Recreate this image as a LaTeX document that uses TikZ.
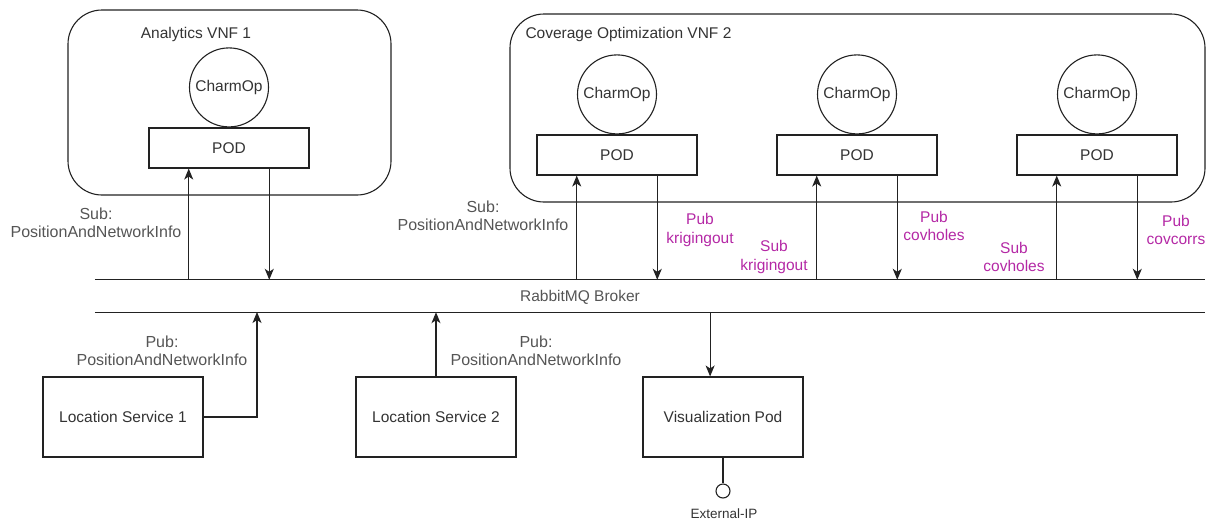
\documentclass[tikz,border=0pt]{standalone}
\usepackage{fontspec}
\setmainfont{Liberation Sans}
\usetikzlibrary{arrows.meta,calc}
\definecolor{ink}{HTML}{222222}
\definecolor{txt}{HTML}{333333}
\definecolor{lbl}{HTML}{555555}
\definecolor{topic}{RGB}{180,40,165}
\tikzset{
  base/.style={font=\fontsize{15.5}{18.5}\selectfont, text=txt},
  vnf/.style={draw=ink, line width=1.1pt, rounded corners=34pt, inner sep=0},
  podbox/.style={base, draw=ink, line width=1.1pt, minimum width=160pt, minimum height=40pt, inner sep=0},
  charm/.style={base, circle, draw=ink, line width=1.1pt, minimum size=79pt, inner sep=0},
  svc/.style={base, draw=ink, line width=1.1pt, minimum width=160pt, minimum height=80pt, inner sep=0},
  topiclbl/.style={font=\fontsize{16}{18.5}\selectfont, align=center, text=lbl},
  msglbl/.style={base, align=center, text=topic},
  wire/.style={draw=ink, line width=1.1pt},
  arr/.style={wire, -{Stealth[length=11pt,width=9pt,inset=3pt]}},
}
\begin{document}
\begin{tikzpicture}[x=1pt,y=-1pt]
\useasboundingbox (0,0) rectangle (1207,523);

% ---- Analytics VNF 1 ----
\node[vnf, minimum width=323pt, minimum height=185pt] (vnf1) at (229.5,102.5) {};
\node[base] (vnf1t) at (196,34) {Analytics VNF 1};
\node[podbox] (pod1) at (229,148) {POD};
\node[charm, anchor=south] (op1) at (pod1.north) {CharmOp};

% ---- Coverage Optimization VNF 2 ----
\node[vnf, minimum width=695pt, minimum height=188pt] (vnf2) at (857.5,108) {};
\node[base, anchor=west] (vnf2t) at (522,34) {Coverage Optimization VNF 2};
\node[podbox] (pod2) at (617,155) {POD};
\node[podbox] (pod3) at (857,155) {POD};
\node[podbox] (pod4) at (1097,155) {POD};
\node[charm, anchor=south] (op2) at (pod2.north) {CharmOp};
\node[charm, anchor=south] (op3) at (pod3.north) {CharmOp};
\node[charm, anchor=south] (op4) at (pod4.north) {CharmOp};

% ---- message bus ----
\node[minimum width=1110pt, minimum height=32pt, inner sep=0] (bus) at (650,296) {};
\draw[wire] (bus.north west) -- (bus.north east);
\draw[wire] (bus.south west) -- (bus.south east);
\node[base, text=lbl] (bust) at (580,297) {RabbitMQ Broker};

% ---- services below the bus ----
\node[svc] (ls1) at (123,417) {Location Service 1};
\node[svc] (ls2) at (436,417) {Location Service 2};
\node[svc] (vis) at (723,417) {Visualization Pod};
\node[circle, draw=ink, line width=1.1pt, minimum size=14pt, inner sep=0] (ext) at (723,491) {};
\node[font=\fontsize{13.5}{16}\selectfont, text=txt] (extt) at (724,514) {External-IP};
\draw[wire] (vis.south) -- (ext.north);

% ---- taps on the pods ----
\foreach \p in {pod1,pod2,pod3,pod4}{
  \coordinate (\p in) at ($(\p.south west)!0.25!(\p.south east)$);
  \coordinate (\p out) at ($(\p.south west)!0.75!(\p.south east)$);
  \draw[arr] (bus.north -| \p in) -- (\p in);
  \draw[arr] (\p out) -- (bus.north -| \p out);
}
\coordinate (vistap) at ($(vis.north west)!0.42!(vis.north east)$);
\draw[arr] (bus.south -| vistap) -- (vistap);
\coordinate (ls1tap) at (257,312);
\draw[arr] (ls1.east) -| (ls1tap);
\draw[arr] (ls2.north) -- (bus.south -| ls2.north);

% ---- topic labels ----
\node[topiclbl] (l1) at (96,223) {Sub:\\PositionAndNetworkInfo};
\node[topiclbl] (l2) at (483,216) {Sub:\\PositionAndNetworkInfo};
\node[topiclbl] (l3) at (162,351) {Pub:\\PositionAndNetworkInfo};
\node[topiclbl] (l4) at (536,351) {Pub:\\PositionAndNetworkInfo};
\node[msglbl] (m1) at (700,230) {Pub\\krigingout};
\node[msglbl] (m2) at (774,257) {Sub\\krigingout};
\node[msglbl] (m3) at (934,226) {Pub\\covholes};
\node[msglbl] (m4) at (1014,257) {Sub\\covholes};
\node[msglbl] (m5) at (1176,230) {Pub\\covcorrs};
\end{tikzpicture}
\end{document}
